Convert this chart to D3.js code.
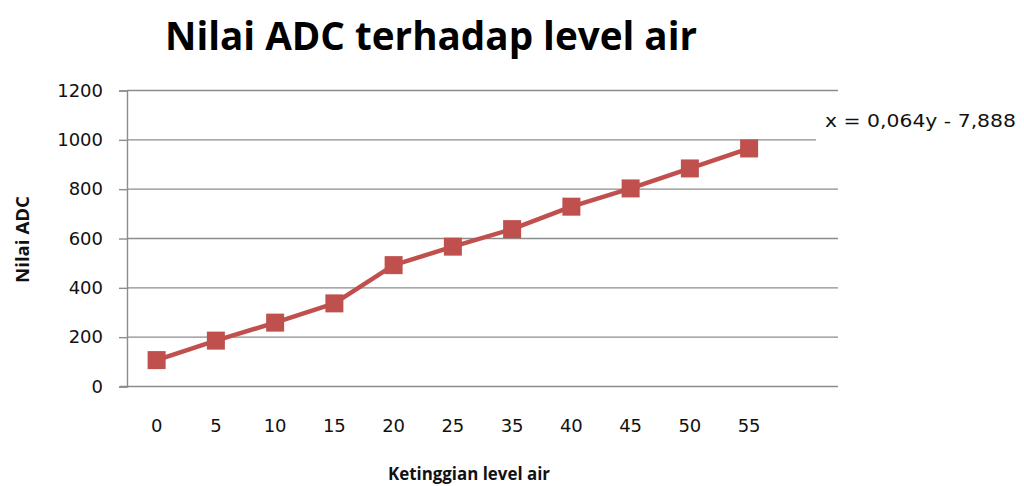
<!DOCTYPE html>
<html>
<head>
<meta charset="utf-8">
<script src="https://cdn.jsdelivr.net/npm/d3@7"></script>
<style>
  body { margin: 0; background: #fff; }
  svg { display: block; }
</style>
</head>
<body>
<svg></svg>
<script>
var screen = {width: 1024, height: 486};

// data
var levels = ["0", "5", "10", "15", "20", "25", "35", "40", "45", "50", "55"];
var adc = [107, 186, 259, 337, 492, 567, 638, 729, 803, 884, 965];
var yTicks = [0, 200, 400, 600, 800, 1000, 1200];

var titleText = "Nilai ADC terhadap level air";
var xTitle = "Ketinggian level air";
var yTitle = "Nilai ADC";
var trendText = "x = 0,064y - 7,888";

var plot = {left: 127, right: 838, top: 90.5, bottom: 386.5};
var red = "#c0504d";
var grid = "#8c8c8c";

var svg = d3.select("svg")
    .attr("width", screen.width)
    .attr("height", screen.height);

var step = (plot.right - plot.left) / 12;
var xScale = d3.scaleBand().domain(levels).range([plot.left, plot.left + step * levels.length]);
var yScale = d3.scaleLinear().domain([0, 1200]).range([plot.bottom, plot.top]);

// gridlines
svg.append("g")
    .selectAll("line")
    .data(yTicks.filter(function(d){ return d > 0; }))
    .enter()
    .append("line")
    .attr("x1", plot.left)
    .attr("x2", plot.right)
    .attr("y1", function(d){ return yScale(d); })
    .attr("y2", function(d){ return yScale(d); })
    .attr("stroke", grid)
    .attr("stroke-width", 1.4);

// y axis
var yAxis = d3.axisLeft(yScale).tickValues(yTicks).tickFormat(d3.format("d")).tickSize(8).tickPadding(16);
svg.append("g")
    .attr("transform", "translate(" + plot.left + ",0)")
    .call(yAxis)
    .call(function(g){
        g.select(".domain").attr("stroke", grid).attr("stroke-width", 1.4);
        g.selectAll(".tick line").attr("stroke", grid).attr("stroke-width", 1.4);
        g.selectAll(".tick text")
            .attr("font-family", "DejaVu Sans")
            .attr("font-size", 18)
            .attr("fill", "#111");
    });

// x axis
var xAxis = d3.axisBottom(xScale).tickSize(0).tickPadding(33);
svg.append("g")
    .attr("transform", "translate(0," + plot.bottom + ")")
    .call(xAxis)
    .call(function(g){
        g.select(".domain").remove();
        g.selectAll(".tick text")
            .attr("font-family", "DejaVu Sans")
            .attr("font-size", 18)
            .attr("fill", "#111");
    });
svg.append("line")
    .attr("x1", plot.left - 7)
    .attr("x2", plot.right)
    .attr("y1", plot.bottom)
    .attr("y2", plot.bottom)
    .attr("stroke", grid)
    .attr("stroke-width", 1.4);

// series line + square markers
var cx = function(d, i){ return xScale(levels[i]) + xScale.bandwidth() / 2; };
var line = d3.line()
    .x(cx)
    .y(function(d){ return yScale(d); });

svg.append("path")
    .datum(adc)
    .attr("d", line)
    .attr("fill", "none")
    .attr("stroke", red)
    .attr("stroke-width", 4.5)
    .attr("stroke-linejoin", "round");

var m = 18;
svg.append("g")
    .selectAll("rect")
    .data(adc)
    .enter()
    .append("rect")
    .attr("x", function(d, i){ return cx(d, i) - m / 2; })
    .attr("y", function(d){ return yScale(d) - m / 2; })
    .attr("width", m)
    .attr("height", m)
    .attr("fill", red);

// trendline label box
svg.append("rect")
    .attr("x", 816)
    .attr("y", 102)
    .attr("width", 208)
    .attr("height", 40)
    .attr("fill", "#fff");
svg.append("text")
    .attr("x", 825)
    .attr("y", 127)
    .attr("font-family", "DejaVu Sans")
    .attr("font-size", 18)
    .attr("fill", "#111")
    .attr("textLength", 191)
    .attr("lengthAdjust", "spacingAndGlyphs")
    .text(trendText);

// titles
svg.append("text")
    .attr("x", 165)
    .attr("y", 50)
    .attr("font-family", "Open Sans")
    .attr("font-weight", "bold")
    .attr("font-size", 40)
    .attr("fill", "#000")
    .attr("textLength", 532)
    .attr("lengthAdjust", "spacingAndGlyphs")
    .text(titleText);

svg.append("text")
    .attr("x", 388)
    .attr("y", 480)
    .attr("font-family", "Open Sans")
    .attr("font-weight", "bold")
    .attr("font-size", 17)
    .attr("fill", "#111")
    .attr("textLength", 162)
    .attr("lengthAdjust", "spacingAndGlyphs")
    .text(xTitle);

svg.append("text")
    .attr("transform", "translate(29,283) rotate(-90)")
    .attr("font-family", "Open Sans")
    .attr("font-weight", "bold")
    .attr("font-size", 17)
    .attr("fill", "#111")
    .attr("textLength", 87)
    .attr("lengthAdjust", "spacingAndGlyphs")
    .text(yTitle);
</script>
</body>
</html>
